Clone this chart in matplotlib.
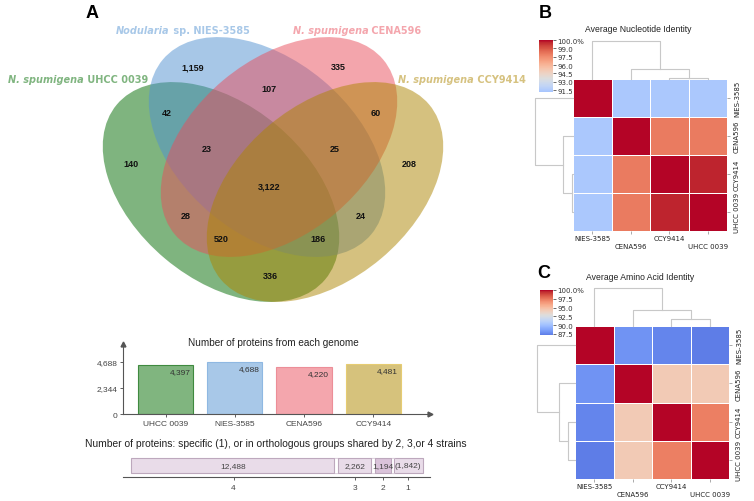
import numpy as np
import matplotlib
matplotlib.use('Agg')
import matplotlib.pyplot as plt
from matplotlib.patches import Ellipse
from matplotlib.colors import ListedColormap
from matplotlib.offsetbox import TextArea, HPacker, AnnotationBbox
from matplotlib.transforms import offset_copy

W, H = 754, 502

# ---------------- data ----------------
strains = ['UHCC 0039', 'NIES-3585', 'CENA596', 'CCY9414']
name_italic = ['N. spumigena', 'Nodularia', 'N. spumigena', 'N. spumigena']
name_rest = [' UHCC 0039', ' sp. NIES-3585', ' CENA596', ' CCY9414']

# region code = membership in (UHCC 0039, NIES-3585, CENA596, CCY9414)
venn_regions = ['1000', '0100', '0010', '0001', '1100', '0110', '0011', '1110',
                '0111', '1111', '1010', '0101', '1011', '1101', '1001']
venn_counts = [140, 1159, 335, 208, 42, 107, 60, 23, 25, 3122, 28, 24, 520, 186, 336]

genome_proteins = [4397, 4688, 4220, 4481]

shared_groups = ['4', '3', '2', '1']
shared_proteins = [12488, 2262, 1194, 1842]
shared_labels = ['12,488', '2,262', '1,194', '(1,842)']

heat_labels = ['NIES-3585', 'CENA596', 'CCY9414', 'UHCC 0039']
ani = np.array([[100.0, 91.4, 91.4, 91.4],
                [91.4, 100.0, 97.6, 97.6],
                [91.4, 97.6, 100.0, 99.6],
                [91.4, 97.6, 99.6, 100.0]])
aai = np.array([[100.0, 88.1, 87.6, 87.3],
                [88.1, 100.0, 94.3, 94.3],
                [87.6, 94.3, 100.0, 97.3],
                [87.3, 94.3, 97.3, 100.0]])
ani_cbar_labels = ['91.5', '93.0', '94.5', '96.0', '97.5', '99.0', '100.0%']
aai_cbar_labels = ['87.5', '90.0', '92.5', '95.0', '97.5', '100.0%']

# ---------------- styles / layout ----------------
venn_base = ['#006b00', '#5191d1', '#e94d5b', '#ad8500']
venn_centers = [(221, 193), (267, 148), (279, 148), (325, 193)]
venn_angles = [40, 40, -40, -40]
name_xy = [(78, 80), (183, 31), (357, 31), (462, 80)]
region_xy = {'1000': (131, 165), '0100': (193, 68), '0010': (338, 68), '0001': (409, 165),
             '1100': (167, 113), '0110': (269, 90), '0011': (376, 113), '1110': (207, 150),
             '0111': (335, 150), '1111': (269, 187), '1010': (186, 217), '0101': (361, 217),
             '1011': (221, 240), '1101': (318, 240), '1001': (270, 277)}
bar_fill = ['#80b57f', '#a8c8e8', '#f4a6ad', '#d6c27c']
bar_edge = ['#3f8a3f', '#8fb8e2', '#ec8e98', '#e6cc72']
seg_fill = ['#e9dce9', '#e9dce9', '#dac3da', '#e9dce9']
seg_edge = '#bda8bd'
HELV = 'Liberation Sans'

plt.rcParams['font.family'] = 'DejaVu Sans'


def box(l, t, r, b):
    return [l / W, 1 - b / H, (r - l) / W, (b - t) / H]


def lighten(c, a=0.5):
    rgb = np.array(matplotlib.colors.to_rgb(c))
    return tuple(rgb * a + (1 - a))


fig = plt.figure(figsize=(W / 100, H / 100), dpi=100)

# ---------------- A: Venn ----------------
ax = fig.add_axes([0, 0, 1, 1])
ax.set_xlim(0, W)
ax.set_ylim(H, 0)
ax.axis('off')
for c, ang, col in zip(venn_centers, venn_angles, venn_base):
    ax.add_patch(Ellipse(c, 272, 174, angle=ang, facecolor=col, edgecolor='none', alpha=0.5))
for code, n in zip(venn_regions, venn_counts):
    x, y = region_xy[code]
    ax.text(x, y, f'{n:,}', ha='center', va='center', fontsize=6.5, weight='bold',
            family=HELV, color='#111111')
for it, rest, xy, col in zip(name_italic, name_rest, name_xy, venn_base):
    tc = lighten(col)
    pack = HPacker(children=[
        TextArea(it, textprops=dict(style='italic', weight='bold', color=tc, size=7)),
        TextArea(rest, textprops=dict(weight='bold', color=tc, size=7))], pad=0, sep=0)
    ax.add_artist(AnnotationBbox(pack, xy, frameon=False, box_alignment=(0.5, 0.5), pad=0))
fig.text(92 / W, 1 - 13 / H, 'A', family=HELV, weight='bold', fontsize=13, ha='center', va='center')

# ---------------- bar chart: proteins per genome ----------------
bx = fig.add_axes(box(123, 415 - 52 * 1.35, 430, 415))
pos = np.arange(len(genome_proteins))
bx.bar(pos, genome_proteins, width=0.8, color=bar_fill, edgecolor=bar_edge, linewidth=0.8)
for p, v in zip(pos, genome_proteins):
    bx.annotate(f'{v:,}', (p + 0.4, v), xytext=(-2, -2), textcoords='offset points',
                ha='right', va='top', fontsize=6, family=HELV, color='#333333')
bx.set_xlim(-0.615, 3.82)
bx.set_ylim(0, max(genome_proteins) * 1.35)
ymax = max(genome_proteins)
bx.set_yticks([0, ymax / 2, ymax])
bx.set_yticklabels([f'{v:,.0f}' for v in [0, ymax / 2, ymax]], family=HELV)
bx.set_xticks(pos)
bx.set_xticklabels(strains, family=HELV)
bx.tick_params(labelsize=6, colors='#444444', length=2, width=0.6, pad=2)
for s in ['top', 'right']:
    bx.spines[s].set_visible(False)
for s in ['left', 'bottom']:
    bx.spines[s].set_color('#555555')
    bx.spines[s].set_linewidth(0.8)
bx.plot(1, 0, '>', transform=bx.transAxes, clip_on=False, color='#555555', ms=3.5)
bx.plot(0, 1, '^', transform=bx.transAxes, clip_on=False, color='#555555', ms=3.5)
bx.patch.set_alpha(0)
fig.text(273 / W, 1 - 343 / H, 'Number of proteins from each genome', family=HELV,
         fontsize=7.2, ha='center', va='center', color='#222222')

# ---------------- stacked bar: shared groups ----------------
sx = fig.add_axes(box(123, 455, 430, 478))
total = sum(shared_proteins)
lefts = np.concatenate([[0], np.cumsum(shared_proteins)[:-1]])
sx.barh(0, shared_proteins, left=lefts, height=1, color=seg_fill, edgecolor=seg_edge, linewidth=0.8)
# small white gap between segments, each side keeping its border
for bnd in lefts[1:]:
    sx.plot([bnd, bnd], [-0.5, 0.5], color='white', lw=2.4, solid_capstyle='butt')
    for dx in (-1.2, 1.2):
        tr = offset_copy(sx.transData, fig=fig, x=dx, y=0, units='points')
        sx.plot([bnd, bnd], [-0.5, 0.5], color=seg_edge, lw=0.8, transform=tr,
                solid_capstyle='butt')
centers = lefts + np.array(shared_proteins) / 2
for cx_, lab in zip(centers, shared_labels):
    sx.text(cx_, 0, lab, ha='center', va='center', fontsize=6, family=HELV, color='#444444')
sx.set_xlim(-total * 8 / 292, total * 299 / 292)
sx.set_ylim(-0.767, 0.767)
sx.set_yticks([])
sx.set_xticks(centers)
sx.set_xticklabels(shared_groups, family=HELV)
sx.tick_params(labelsize=6, colors='#444444', length=2, width=0.6, pad=3)
for s in ['top', 'right', 'left']:
    sx.spines[s].set_visible(False)
sx.spines['bottom'].set_color('#555555')
sx.spines['bottom'].set_linewidth(0.8)
sx.patch.set_alpha(0)
fig.text(276 / W, 1 - 444 / H,
         'Number of proteins: specific (1), or in orthologous groups shared by 2, 3,or 4 strains',
         family=HELV, fontsize=7.4, ha='center', va='center', color='#222222')


# ---------------- B / C: clustered heatmaps ----------------
def centered_cmap(vmin, vmax, center):
    vrange = max(vmax - center, center - vmin)
    lo = (vmin - (center - vrange)) / (2 * vrange)
    hi = (vmax - (center - vrange)) / (2 * vrange)
    return ListedColormap(plt.get_cmap('coolwarm')(np.linspace(lo, hi, 256)))


def avg_linkage(mat):
    # average linkage on euclidean distance between rows (seaborn clustermap default)
    d = np.sqrt(((mat[:, None, :] - mat[None, :, :]) ** 2).sum(-1))
    clusters = {i: ([i], 0.0, i + 0.5) for i in range(len(mat))}
    nxt = len(mat)
    links = []
    while len(clusters) > 1:
        keys = list(clusters)
        best = None
        for i in range(len(keys)):
            for j in range(i + 1, len(keys)):
                dist = d[np.ix_(clusters[keys[i]][0], clusters[keys[j]][0])].mean()
                if best is None or dist < best[0]:
                    best = (dist, keys[i], keys[j])
        dist, ka, kb = best
        ma, ha, xa = clusters.pop(ka)
        mb, hb, xb = clusters.pop(kb)
        links.append((xa, ha, xb, hb, dist))
        clusters[nxt] = (ma + mb, dist, (xa + xb) / 2)
        nxt += 1
    return links


def cluster_panel(mat, hm, top, left, cb, vmin, vmax, center, cticks, clabels,
                  title, title_xy, letter, letter_xy):
    l, t, r, b = hm
    cmap = centered_cmap(vmin, vmax, center)
    hax = fig.add_axes(box(l, t, r, b))
    mesh = hax.pcolormesh(mat, cmap=cmap, vmin=vmin, vmax=vmax, edgecolors='white', linewidth=0.5)
    n = len(mat)
    hax.set_xlim(0, n)
    hax.set_ylim(n, 0)
    for s in hax.spines.values():
        s.set_visible(False)
    hax.set_xticks(np.arange(n) + 0.5)
    hax.set_xticklabels([])
    for i, lab in enumerate(heat_labels):
        hax.annotate(lab, (i + 0.5, 0), xycoords=('data', 'axes fraction'),
                     xytext=(0, -2.8 - 5.8 * (i % 2)), textcoords='offset points',
                     ha='center', va='top', fontsize=5, color='#222222')
    hax.yaxis.tick_right()
    hax.set_yticks(np.arange(n) + 0.5)
    hax.set_yticklabels(heat_labels, rotation=90, va='center', fontsize=5, color='#222222')
    hax.tick_params(length=2.5, width=0.5, colors='#888888', labelcolor='#222222', pad=2.5)

    links = avg_linkage(mat)
    hmax = max(k[4] for k in links)
    tax = fig.add_axes(box(l, top, r, t))
    lax = fig.add_axes(box(left, t, l, b))
    for xa, ha, xb, hb, h in links:
        tax.plot([xa, xa, xb, xb], [ha, h, h, hb], color='#c8c8c8', lw=0.8, clip_on=False)
        lax.plot([ha, h, h, hb], [xa, xa, xb, xb], color='#c8c8c8', lw=0.8, clip_on=False)
    tax.set_xlim(0, n)
    tax.set_ylim(0, hmax)
    lax.set_ylim(n, 0)
    lax.set_xlim(hmax, 0)
    tax.axis('off')
    lax.axis('off')

    cl, ct, cr, cbm = cb
    cax = fig.add_axes(box(cl, ct, cr, cbm))
    cbar = fig.colorbar(mesh, cax=cax)
    cbar.outline.set_visible(False)
    cbar.set_ticks(cticks)
    cbar.set_ticklabels(clabels)
    cax.tick_params(labelsize=5, length=2, width=0.5, pad=1, colors='#333333')

    fig.text(title_xy[0] / W, 1 - title_xy[1] / H, title, family=HELV, fontsize=6.2,
             ha='center', va='center', color='#222222')
    fig.text(letter_xy[0] / W, 1 - letter_xy[1] / H, letter, family=HELV, weight='bold',
             fontsize=13, ha='center', va='center')


cluster_panel(ani, (573, 80, 727, 232), 42, 535, (539, 41, 553, 93),
              91.2, 100.0, 93.5, np.linspace(91.5, 100.0, 7), ani_cbar_labels,
              'Average Nucleotide Identity', (638, 30), 'B', (545, 13))
cluster_panel(aai, (575, 327, 729, 480), 289, 537, (540, 291, 553, 336),
              87.2, 100.0, 92.8, np.linspace(87.5, 100.0, 6), aai_cbar_labels,
              'Average Amino Acid Identity', (640, 278), 'C', (544, 274))

fig.savefig('out.png', dpi=100, facecolor='white')
